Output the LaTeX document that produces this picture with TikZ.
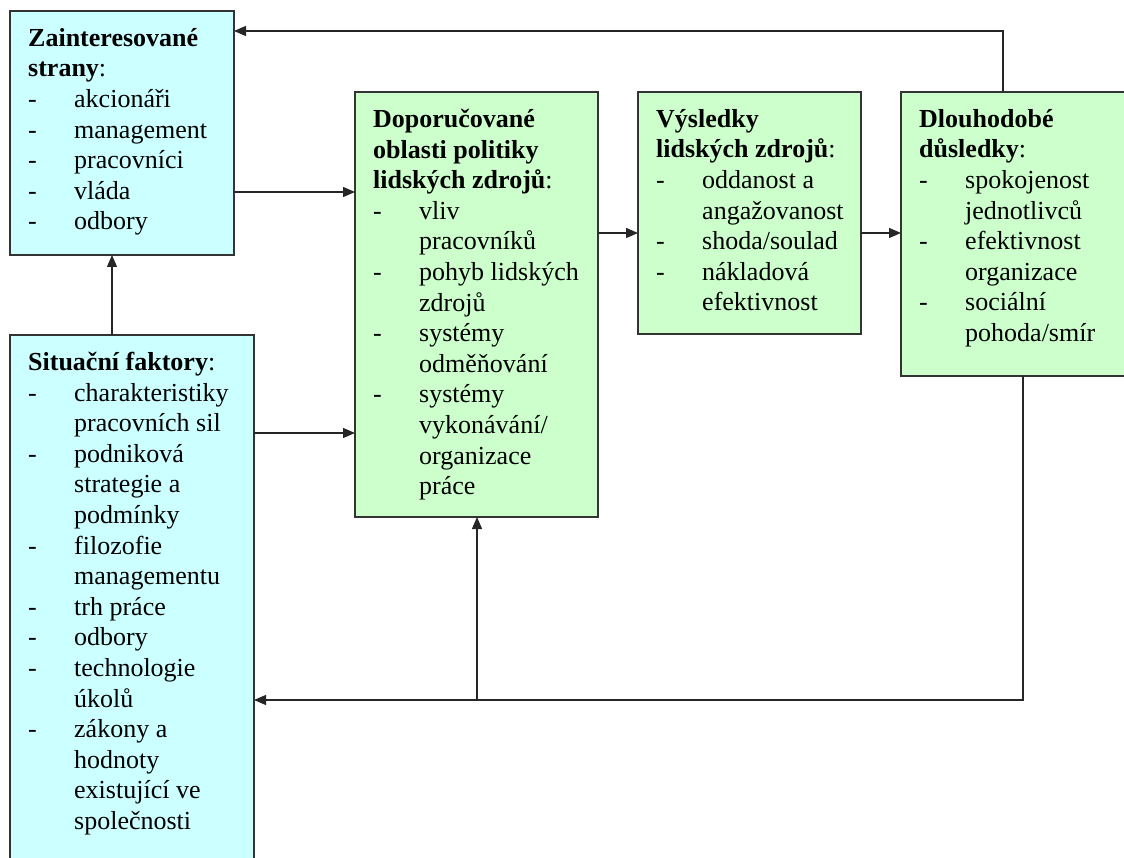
\documentclass[tikz,border=0pt]{standalone}
\usepackage{fontspec}
\setmainfont{Liberation Serif}
\usetikzlibrary{arrows.meta}
\newcommand\mydash{\makebox[46pt][l]{-}}
\newcommand\myind{\hspace*{46pt}}
\definecolor{cyanbox}{HTML}{CCFFFF}
\definecolor{greenbox}{HTML}{CCFFCC}
\definecolor{edge}{HTML}{333333}
\tikzset{
  box/.style={draw=edge, line width=1.6pt, anchor=north west, inner sep=0pt, outer sep=0pt},
  cbox/.style={box, fill=cyanbox},
  gbox/.style={box, fill=greenbox},
  txt/.style={anchor=north west, align=left, inner sep=0pt, font=\fontsize{26}{30.6}\selectfont},
  arr/.style={draw=black!85, line width=1.3pt, -{Triangle[length=12pt,width=10pt]}}
}
\begin{document}
\begin{tikzpicture}[x=1pt,y=1pt]
\useasboundingbox (0,0) rectangle (1124,-858);
\clip (0,0) rectangle (1124,-858);
\fill[white] (0,0) rectangle (1124,-858);
% boxes
\node[cbox, minimum width=224pt, minimum height=244pt] (A) at (10,-11) {};
\node[cbox, minimum width=244pt, minimum height=560pt] (B) at (10,-335) {};
\node[gbox, minimum width=243pt, minimum height=425pt] (C) at (355,-92) {};
\node[gbox, minimum width=223pt, minimum height=242pt] (D) at (638,-92) {};
\node[gbox, minimum width=260pt, minimum height=284pt] (E) at (901,-92) {};
% texts
\node[txt] (tA) at ([xshift=18pt,yshift=-17pt]A.north west) {%
\textbf{Zainteresované}\\
\textbf{strany}:\\
\mydash akcionáři\\
\mydash management\\
\mydash pracovníci\\
\mydash vláda\\
\mydash odbory};
\node[txt] (tB) at ([xshift=18pt,yshift=-17pt]B.north west) {%
\textbf{Situační faktory}:\\
\mydash charakteristiky\\
\myind pracovních sil\\
\mydash podniková\\
\myind strategie a\\
\myind podmínky\\
\mydash filozofie\\
\myind managementu\\
\mydash trh práce\\
\mydash odbory\\
\mydash technologie\\
\myind úkolů\\
\mydash zákony a\\
\myind hodnoty\\
\myind existující ve\\
\myind společnosti};
\node[txt] (tC) at ([xshift=18pt,yshift=-17pt]C.north west) {%
\textbf{Doporučované}\\
\textbf{oblasti politiky}\\
\textbf{lidských zdrojů}:\\
\mydash vliv\\
\myind pracovníků\\
\mydash pohyb lidských\\
\myind zdrojů\\
\mydash systémy\\
\myind odměňování\\
\mydash systémy\\
\myind vykonávání/\\
\myind organizace\\
\myind práce};
\node[txt] (tD) at ([xshift=18pt,yshift=-17pt]D.north west) {%
\textbf{Výsledky}\\
\textbf{lidských zdrojů}:\\
\mydash oddanost a\\
\myind angažovanost\\
\mydash shoda/soulad\\
\mydash nákladová\\
\myind efektivnost};
\node[txt] (tE) at ([xshift=18pt,yshift=-17pt]E.north west) {%
\textbf{Dlouhodobé}\\
\textbf{důsledky}:\\
\mydash spokojenost\\
\myind jednotlivců\\
\mydash efektivnost\\
\myind organizace\\
\mydash sociální\\
\myind pohoda/smír};
% connectors
\draw[arr] ([xshift=102pt]E.north west) |- ([yshift=-20pt]A.north east);
\draw[arr] ([yshift=-181pt]A.north east) -- ([yshift=-181pt]A.north east -| C.west);
\draw[arr] ([xshift=102pt]B.north west) -- ([xshift=102pt]B.north west |- A.south);
\draw[arr] ([yshift=-98pt]B.north east) -- ([yshift=-98pt]B.north east -| C.west);
\draw[arr] ([yshift=-141pt]C.north east) -- ([yshift=-141pt]D.north west);
\draw[arr] ([yshift=-141pt]D.north east) -- ([yshift=-141pt]E.north west);
\draw[arr] ([xshift=122pt]E.south west) |- ([yshift=-365pt]B.north east);
\coordinate (j) at (477,-700);
\draw[arr] (j) -- (j |- C.south);
\end{tikzpicture}
\end{document}
